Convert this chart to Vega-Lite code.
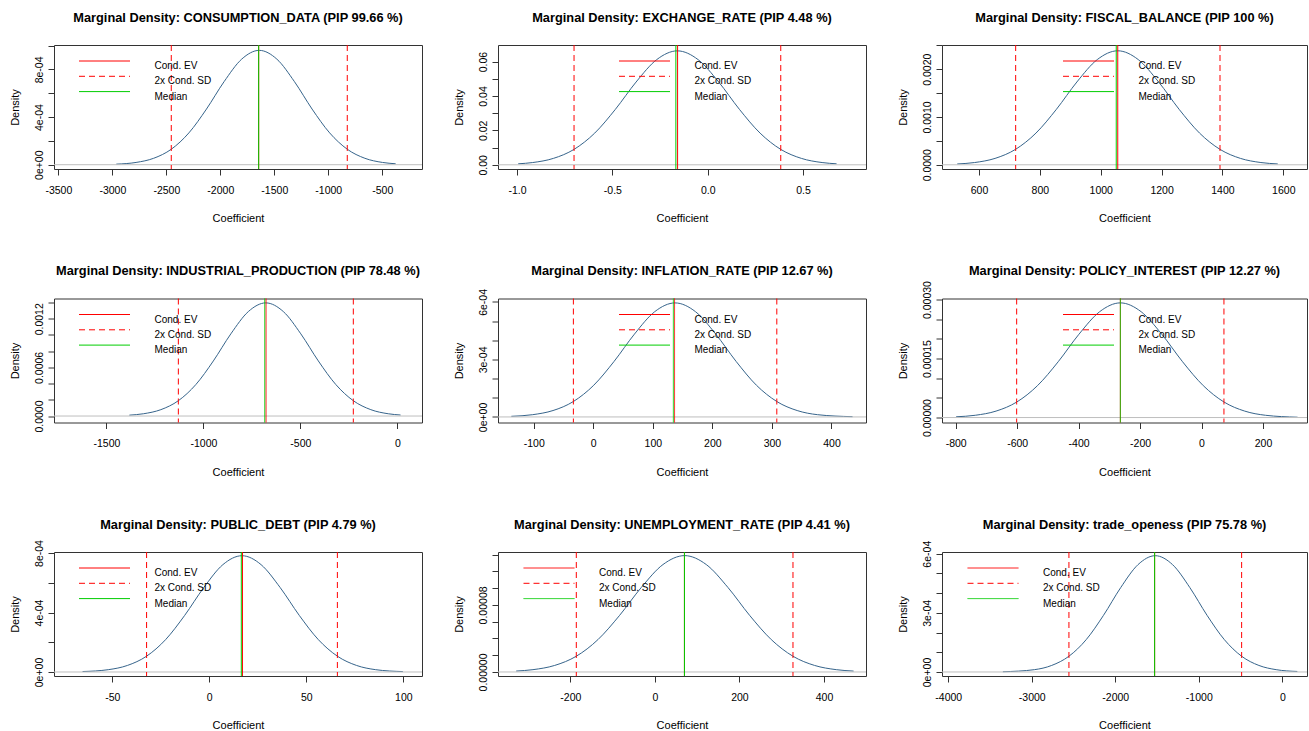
{
  "$schema": "https://vega.github.io/schema/vega-lite/v6.json",
  "background": "white",
  "padding": {"left": 8, "top": 11, "right": 0, "bottom": 0},
  "config": {
    "font": "Liberation Sans",
    "locale": {"number": {"decimal": ".", "thousands": ",", "grouping": [3], "currency": ["$", ""], "minus": "-"}},
    "view": {"stroke": "#333", "strokeWidth": 1},
    "axis": {"grid": false, "domain": false, "tickColor": "#333", "tickSize": 6, "tickWidth": 1, "labelColor": "#000", "titleColor": "#000", "labelFontSize": 10.5, "titleFontSize": 11, "titleFontWeight": "normal", "labelFlush": false, "labelOverlap": false, "labelFont": "Liberation Sans", "titleFont": "Liberation Sans", "tickCount": 30},
    "axisX": {"labelPadding": 10, "titlePadding": 17},
    "axisY": {"labelAngle": -90, "labelAlign": "center", "labelBaseline": "alphabetic", "labelPadding": 6, "titlePadding": 14},
    "title": {"font": "Liberation Sans", "fontSize": 12.8, "fontWeight": "bold", "color": "#000", "anchor": "middle", "frame": "group", "offset": 20},
    "legend": {"symbolType": "M-25.5,0H25.5", "symbolSize": 4, "symbolOffset": 20.5, "symbolStrokeWidth": 1, "labelFontSize": 10, "labelFont": "Liberation Sans", "labelColor": "#000", "labelOffset": 45, "labelBaseline": "top", "rowPadding": 0.3, "padding": 0}
  },
  "datasets": {
    "curves": [
      {"panel":"P1","x":-2963,"y":4.9e-6},{"panel":"P1","x":-2780,"y":1.905e-5},{"panel":"P1","x":-2617,"y":5.39e-5},{"panel":"P1","x":-2454,"y":1.299e-4},{"panel":"P1","x":-2291,"y":2.669e-4},{"panel":"P1","x":-2128,"y":4.673e-4},{"panel":"P1","x":-1965,"y":6.971e-4},{"panel":"P1","x":-1802,"y":8.862e-4},{"panel":"P1","x":-1639,"y":9.6e-4},{"panel":"P1","x":-1476,"y":8.862e-4},{"panel":"P1","x":-1313,"y":6.971e-4},{"panel":"P1","x":-1150,"y":4.673e-4},{"panel":"P1","x":-987,"y":2.669e-4},{"panel":"P1","x":-824,"y":1.299e-4},{"panel":"P1","x":-661,"y":5.39e-5},{"panel":"P1","x":-498,"y":1.905e-5},{"panel":"P1","x":-376,"y":7.9e-6},
      {"panel":"P2","x":-0.9937,"y":0.000577},{"panel":"P2","x":-0.9178,"y":0.001313},{"panel":"P2","x":-0.8094,"y":0.003716},{"panel":"P2","x":-0.701,"y":0.00896},{"panel":"P2","x":-0.5926,"y":0.018406},{"panel":"P2","x":-0.4842,"y":0.032223},{"panel":"P2","x":-0.3758,"y":0.048071},{"panel":"P2","x":-0.2674,"y":0.06111},{"panel":"P2","x":-0.159,"y":0.0662},{"panel":"P2","x":-0.0506,"y":0.06111},{"panel":"P2","x":0.0578,"y":0.048071},{"panel":"P2","x":0.1662,"y":0.032223},{"panel":"P2","x":0.2746,"y":0.018406},{"panel":"P2","x":0.383,"y":0.00896},{"panel":"P2","x":0.4914,"y":0.003716},{"panel":"P2","x":0.5998,"y":0.001313},{"panel":"P2","x":0.6757,"y":0.000577},
      {"panel":"P3","x":528.5,"y":1.72e-5},{"panel":"P3","x":585.6,"y":4.73e-5},{"panel":"P3","x":652.8,"y":1.339e-4},{"panel":"P3","x":720,"y":3.228e-4},{"panel":"P3","x":787.2,"y":6.631e-4},{"panel":"P3","x":854.4,"y":1.1609e-3},{"panel":"P3","x":921.6,"y":1.7319e-3},{"panel":"P3","x":988.8,"y":2.2016e-3},{"panel":"P3","x":1056,"y":2.385e-3},{"panel":"P3","x":1123.2,"y":2.2016e-3},{"panel":"P3","x":1190.4,"y":1.7319e-3},{"panel":"P3","x":1257.6,"y":1.1609e-3},{"panel":"P3","x":1324.8,"y":6.631e-4},{"panel":"P3","x":1392,"y":3.228e-4},{"panel":"P3","x":1459.2,"y":1.339e-4},{"panel":"P3","x":1526.4,"y":4.73e-5},{"panel":"P3","x":1581.8,"y":1.78e-5},
      {"panel":"P4","x":-1381.6,"y":1.07e-5},{"panel":"P4","x":-1309.4,"y":2.77e-5},{"panel":"P4","x":-1219.2,"y":7.84e-5},{"panel":"P4","x":-1129,"y":1.889e-4},{"panel":"P4","x":-1038.8,"y":3.881e-4},{"panel":"P4","x":-948.6,"y":6.795e-4},{"panel":"P4","x":-858.4,"y":1.0137e-3},{"panel":"P4","x":-768.2,"y":1.2887e-3},{"panel":"P4","x":-678,"y":1.396e-3},{"panel":"P4","x":-587.8,"y":1.2887e-3},{"panel":"P4","x":-497.6,"y":1.0137e-3},{"panel":"P4","x":-407.4,"y":6.795e-4},{"panel":"P4","x":-317.2,"y":3.881e-4},{"panel":"P4","x":-227,"y":1.889e-4},{"panel":"P4","x":-136.8,"y":7.84e-5},{"panel":"P4","x":-46.6,"y":2.77e-5},{"panel":"P4","x":16.5,"y":1.22e-5},
      {"panel":"P5","x":-137.6,"y":3.3e-6},{"panel":"P5","x":-101.7,"y":1.18e-5},{"panel":"P5","x":-67.6,"y":3.34e-5},{"panel":"P5","x":-33.4,"y":8.05e-5},{"panel":"P5","x":0.8,"y":1.654e-4},{"panel":"P5","x":34.9,"y":2.896e-4},{"panel":"P5","x":69.1,"y":4.321e-4},{"panel":"P5","x":103.2,"y":5.493e-4},{"panel":"P5","x":137.4,"y":5.95e-4},{"panel":"P5","x":171.6,"y":5.493e-4},{"panel":"P5","x":205.7,"y":4.321e-4},{"panel":"P5","x":239.9,"y":2.896e-4},{"panel":"P5","x":274.0,"y":1.654e-4},{"panel":"P5","x":308.2,"y":8.05e-5},{"panel":"P5","x":342.4,"y":3.34e-5},{"panel":"P5","x":376.5,"y":1.18e-5},{"panel":"P5","x":435.4,"y":1.35e-6},
      {"panel":"P6","x":-798.5,"y":1.92e-6},{"panel":"P6","x":-736.1,"y":5.78e-6},{"panel":"P6","x":-668.6,"y":1.636e-5},{"panel":"P6","x":-601.2,"y":3.945e-5},{"panel":"P6","x":-533.8,"y":8.105e-5},{"panel":"P6","x":-466.3,"y":1.4189e-4},{"panel":"P6","x":-398.9,"y":2.1167e-4},{"panel":"P6","x":-331.4,"y":2.6909e-4},{"panel":"P6","x":-264,"y":2.915e-4},{"panel":"P6","x":-196.6,"y":2.6909e-4},{"panel":"P6","x":-129.1,"y":2.1167e-4},{"panel":"P6","x":-61.7,"y":1.4189e-4},{"panel":"P6","x":5.8,"y":8.105e-5},{"panel":"P6","x":73.2,"y":3.945e-5},{"panel":"P6","x":140.6,"y":1.636e-5},{"panel":"P6","x":208.1,"y":5.78e-6},{"panel":"P6","x":312.6,"y":8.4e-7},
      {"panel":"P7","x":-65.3,"y":2.96e-6},{"panel":"P7","x":-52.03,"y":1.551e-5},{"panel":"P7","x":-42.19,"y":4.389e-5},{"panel":"P7","x":-32.35,"y":1.0584e-4},{"panel":"P7","x":-22.51,"y":2.1743e-4},{"panel":"P7","x":-12.67,"y":3.8064e-4},{"panel":"P7","x":-2.83,"y":5.6785e-4},{"panel":"P7","x":7.01,"y":7.2188e-4},{"panel":"P7","x":16.85,"y":7.82e-4},{"panel":"P7","x":26.69,"y":7.2188e-4},{"panel":"P7","x":36.53,"y":5.6785e-4},{"panel":"P7","x":46.37,"y":3.8064e-4},{"panel":"P7","x":56.21,"y":2.1743e-4},{"panel":"P7","x":66.05,"y":1.0584e-4},{"panel":"P7","x":75.89,"y":4.389e-5},{"panel":"P7","x":85.73,"y":1.551e-5},{"panel":"P7","x":99.75,"y":2.67e-6},
      {"panel":"P8","x":-328.0,"y":1.1e-6},{"panel":"P8","x":-288.3,"y":2.754e-6},{"panel":"P8","x":-237.0,"y":7.79e-6},{"panel":"P8","x":-185.8,"y":1.8785e-5},{"panel":"P8","x":-134.6,"y":3.8592e-5},{"panel":"P8","x":-83.3,"y":6.7561e-5},{"panel":"P8","x":-32.1,"y":1.0079e-4},{"panel":"P8","x":19.2,"y":1.28129e-4},{"panel":"P8","x":70.4,"y":1.388e-4},{"panel":"P8","x":121.6,"y":1.28129e-4},{"panel":"P8","x":172.9,"y":1.0079e-4},{"panel":"P8","x":224.1,"y":6.7561e-5},{"panel":"P8","x":275.4,"y":3.8592e-5},{"panel":"P8","x":326.6,"y":1.8785e-5},{"panel":"P8","x":377.8,"y":7.79e-6},{"panel":"P8","x":429.1,"y":2.754e-6},{"panel":"P8","x":470.1,"y":1.07e-6},
      {"panel":"P9","x":-3346,"y":1.16e-6},{"panel":"P9","x":-2968.6,"y":1.171e-5},{"panel":"P9","x":-2761.8,"y":3.312e-5},{"panel":"P9","x":-2555,"y":7.985e-5},{"panel":"P9","x":-2348.2,"y":1.6404e-4},{"panel":"P9","x":-2141.4,"y":2.8718e-4},{"panel":"P9","x":-1934.6,"y":4.2843e-4},{"panel":"P9","x":-1727.8,"y":5.4464e-4},{"panel":"P9","x":-1521,"y":5.9e-4},{"panel":"P9","x":-1314.2,"y":5.4464e-4},{"panel":"P9","x":-1107.4,"y":4.2843e-4},{"panel":"P9","x":-900.6,"y":2.8718e-4},{"panel":"P9","x":-693.8,"y":1.6404e-4},{"panel":"P9","x":-487,"y":7.985e-5},{"panel":"P9","x":-280.2,"y":3.312e-5},{"panel":"P9","x":-73.4,"y":1.171e-5},{"panel":"P9","x":180,"y":2.63e-6}
    ],
    "lines": [
      {"panel":"P1","type":"Cond. EV","x":-1644.6},{"panel":"P1","type":"2x Cond. SD","x":-2454},{"panel":"P1","type":"2x Cond. SD","x":-824},{"panel":"P1","type":"Median","x":-1644.6},
      {"panel":"P2","type":"Cond. EV","x":-0.158},{"panel":"P2","type":"2x Cond. SD","x":-0.701},{"panel":"P2","type":"2x Cond. SD","x":0.383},{"panel":"P2","type":"Median","x":-0.167},
      {"panel":"P3","type":"Cond. EV","x":1056},{"panel":"P3","type":"2x Cond. SD","x":720.5},{"panel":"P3","type":"2x Cond. SD","x":1392},{"panel":"P3","type":"Median","x":1051},
      {"panel":"P4","type":"Cond. EV","x":-677},{"panel":"P4","type":"2x Cond. SD","x":-1129},{"panel":"P4","type":"2x Cond. SD","x":-227},{"panel":"P4","type":"Median","x":-684},
      {"panel":"P5","type":"Cond. EV","x":136.5},{"panel":"P5","type":"2x Cond. SD","x":-33.4},{"panel":"P5","type":"2x Cond. SD","x":308.2},{"panel":"P5","type":"Median","x":134.5},
      {"panel":"P6","type":"Cond. EV","x":-264},{"panel":"P6","type":"2x Cond. SD","x":-601.5},{"panel":"P6","type":"2x Cond. SD","x":73},{"panel":"P6","type":"Median","x":-264},
      {"panel":"P7","type":"Cond. EV","x":17.1},{"panel":"P7","type":"2x Cond. SD","x":-32.3},{"panel":"P7","type":"2x Cond. SD","x":66},{"panel":"P7","type":"Median","x":16.5},
      {"panel":"P8","type":"Cond. EV","x":70},{"panel":"P8","type":"2x Cond. SD","x":-185.8},{"panel":"P8","type":"2x Cond. SD","x":326.7},{"panel":"P8","type":"Median","x":70},
      {"panel":"P9","type":"Cond. EV","x":-1529},{"panel":"P9","type":"2x Cond. SD","x":-2555},{"panel":"P9","type":"2x Cond. SD","x":-487},{"panel":"P9","type":"Median","x":-1529}
    ]
  },
  "columns": 3,
  "bounds": "flush",
  "spacing": {"row": 129.5, "column": 76},
  "resolve": {
    "scale": {"x": "independent", "y": "independent", "color": "independent", "strokeDash": "independent"},
    "legend": {"color": "independent", "strokeDash": "independent"},
    "axis": {"x": "independent", "y": "independent"}
  },
  "concat": [
    {
      "width": 368, "height": 124,
      "title": {"text": "Marginal Density: CONSUMPTION_DATA (PIP 99.66 %)", "offset": 20},
      "layer": [
        {"data": {"name": "curves"}, "transform": [{"filter": "datum.panel == 'P1'"}],
         "mark": {"type": "line", "color": "#36648B", "strokeWidth": 1, "interpolate": "monotone"},
         "encoding": {
           "x": {"field": "x", "type": "quantitative", "title": "Coefficient", "scale": {"domain": [-3540, -132], "nice": false, "zero": false}, "axis": {"values": [-3500, -3000, -2500, -2000, -1500, -1000, -500], "format": "d", "labelOverlap": false, "tickCount": 30}},
           "y": {"field": "y", "type": "quantitative", "title": "Density", "scale": {"domain": [-0.000036, 0.001005], "nice": false, "zero": false}, "axis": {"values": [0, 0.0002, 0.0004, 0.0006, 0.0008, 0.001], "tickCount": 30, "labelOverlap": false, "labelExpr": "datum.value == 0 ? '0e+00' : datum.value == 0.0004 ? '4e-04' : datum.value == 0.0008 ? '8e-04' : ''"}}
         }},
        {"data": {"values": [{}]}, "mark": {"type": "rule", "color": "#BEBEBE", "strokeWidth": 1}, "encoding": {"y": {"datum": 0, "type": "quantitative"}}},
        {"data": {"name": "lines"}, "transform": [{"filter": "datum.panel == 'P1'"}],
         "mark": {"type": "rule", "strokeWidth": 1},
         "encoding": {
           "x": {"field": "x", "type": "quantitative", "title": "Coefficient", "scale": {"domain": [-3540, -132], "nice": false, "zero": false}},
           "color": {"field": "type", "type": "nominal", "scale": {"domain": ["Cond. EV", "2x Cond. SD", "Median"], "range": ["#FF0000", "#FF0000", "#00CD00"]}, "legend": {"title": null, "orient": "none", "legendX": 25, "legendY": 11, "symbolType": "M-25.5,0H25.5", "symbolSize": 4, "symbolOffset": 20.5, "labelOffset": 45, "labelBaseline": "top", "rowPadding": 0.3, "encode": {"symbols": {"update": {"strokeDash": {"signal": "datum.value == '2x Cond. SD' ? [6, 4] : [1, 0]"}}}}}},
           "strokeDash": {"field": "type", "type": "nominal", "scale": {"domain": ["Cond. EV", "2x Cond. SD", "Median"], "range": [[1, 0], [6, 4], [1, 0]]}, "legend": null}
         }}
      ]
    },
    {
      "width": 368, "height": 124,
      "title": {"text": "Marginal Density: EXCHANGE_RATE (PIP 4.48 %)", "offset": 20},
      "layer": [
        {"data": {"name": "curves"}, "transform": [{"filter": "datum.panel == 'P2'"}],
         "mark": {"type": "line", "color": "#36648B", "strokeWidth": 1, "interpolate": "monotone"},
         "encoding": {
           "x": {"field": "x", "type": "quantitative", "title": "Coefficient", "scale": {"domain": [-1.0997, 0.83], "nice": false, "zero": false}, "axis": {"values": [-1, -0.5, 0, 0.5], "format": ".1f", "labelOverlap": false, "tickCount": 30}},
           "y": {"field": "y", "type": "quantitative", "title": "Density", "scale": {"domain": [-0.00244, 0.0696], "nice": false, "zero": false}, "axis": {"values": [0, 0.01, 0.02, 0.03, 0.04, 0.05, 0.06], "tickCount": 30, "labelOverlap": false, "labelExpr": "datum.value == 0 ? '0.00' : datum.value == 0.02 ? '0.02' : datum.value == 0.04 ? '0.04' : datum.value == 0.06 ? '0.06' : ''"}}
         }},
        {"data": {"values": [{}]}, "mark": {"type": "rule", "color": "#BEBEBE", "strokeWidth": 1}, "encoding": {"y": {"datum": 0, "type": "quantitative"}}},
        {"data": {"name": "lines"}, "transform": [{"filter": "datum.panel == 'P2'"}],
         "mark": {"type": "rule", "strokeWidth": 1},
         "encoding": {
           "x": {"field": "x", "type": "quantitative", "title": "Coefficient", "scale": {"domain": [-1.0997, 0.83], "nice": false, "zero": false}},
           "color": {"field": "type", "type": "nominal", "scale": {"domain": ["Cond. EV", "2x Cond. SD", "Median"], "range": ["#FF0000", "#FF0000", "#00CD00"]}, "legend": {"title": null, "orient": "none", "legendX": 121, "legendY": 11, "symbolType": "M-25.5,0H25.5", "symbolSize": 4, "symbolOffset": 20.5, "labelOffset": 45, "labelBaseline": "top", "rowPadding": 0.3, "encode": {"symbols": {"update": {"strokeDash": {"signal": "datum.value == '2x Cond. SD' ? [6, 4] : [1, 0]"}}}}}},
           "strokeDash": {"field": "type", "type": "nominal", "scale": {"domain": ["Cond. EV", "2x Cond. SD", "Median"], "range": [[1, 0], [6, 4], [1, 0]]}, "legend": null}
         }}
      ]
    },
    {
      "width": 365, "height": 124,
      "title": {"text": "Marginal Density: FISCAL_BALANCE (PIP 100 %)", "offset": 20},
      "layer": [
        {"data": {"name": "curves"}, "transform": [{"filter": "datum.panel == 'P3'"}],
         "mark": {"type": "line", "color": "#36648B", "strokeWidth": 1, "interpolate": "monotone"},
         "encoding": {
           "x": {"field": "x", "type": "quantitative", "title": "Coefficient", "scale": {"domain": [478.4, 1677.9], "nice": false, "zero": false}, "axis": {"values": [600, 800, 1000, 1200, 1400, 1600], "format": "d", "labelOverlap": false, "tickCount": 30}},
           "y": {"field": "y", "type": "quantitative", "title": "Density", "scale": {"domain": [-0.000088, 0.002506], "nice": false, "zero": false}, "axis": {"values": [0, 0.0005, 0.001, 0.0015, 0.002, 0.0025], "tickCount": 30, "labelOverlap": false, "labelExpr": "datum.value == 0 ? '0.0000' : datum.value == 0.001 ? '0.0010' : datum.value == 0.002 ? '0.0020' : ''"}}
         }},
        {"data": {"values": [{}]}, "mark": {"type": "rule", "color": "#BEBEBE", "strokeWidth": 1}, "encoding": {"y": {"datum": 0, "type": "quantitative"}}},
        {"data": {"name": "lines"}, "transform": [{"filter": "datum.panel == 'P3'"}],
         "mark": {"type": "rule", "strokeWidth": 1},
         "encoding": {
           "x": {"field": "x", "type": "quantitative", "title": "Coefficient", "scale": {"domain": [478.4, 1677.9], "nice": false, "zero": false}},
           "color": {"field": "type", "type": "nominal", "scale": {"domain": ["Cond. EV", "2x Cond. SD", "Median"], "range": ["#FF0000", "#FF0000", "#00CD00"]}, "legend": {"title": null, "orient": "none", "legendX": 121, "legendY": 11, "symbolType": "M-25.5,0H25.5", "symbolSize": 4, "symbolOffset": 20.5, "labelOffset": 45, "labelBaseline": "top", "rowPadding": 0.3, "encode": {"symbols": {"update": {"strokeDash": {"signal": "datum.value == '2x Cond. SD' ? [6, 4] : [1, 0]"}}}}}},
           "strokeDash": {"field": "type", "type": "nominal", "scale": {"domain": ["Cond. EV", "2x Cond. SD", "Median"], "range": [[1, 0], [6, 4], [1, 0]]}, "legend": null}
         }}
      ]
    },
    {
      "width": 368, "height": 124,
      "title": {"text": "Marginal Density: INDUSTRIAL_PRODUCTION (PIP 78.48 %)", "offset": 20},
      "layer": [
        {"data": {"name": "curves"}, "transform": [{"filter": "datum.panel == 'P4'"}],
         "mark": {"type": "line", "color": "#36648B", "strokeWidth": 1, "interpolate": "monotone"},
         "encoding": {
           "x": {"field": "x", "type": "quantitative", "title": "Coefficient", "scale": {"domain": [-1770, 127], "nice": false, "zero": false}, "axis": {"values": [-1500, -1000, -500, 0], "format": "d", "labelOverlap": false, "tickCount": 30}},
           "y": {"field": "y", "type": "quantitative", "title": "Density", "scale": {"domain": [-0.00008, 0.00145], "nice": false, "zero": false}, "axis": {"values": [0, 0.0002, 0.0004, 0.0006, 0.0008, 0.001, 0.0012, 0.0014], "tickCount": 30, "labelOverlap": false, "labelExpr": "datum.value == 0 ? '0.0000' : datum.value == 0.0006 ? '0.0006' : datum.value == 0.0012 ? '0.0012' : ''"}}
         }},
        {"data": {"values": [{}]}, "mark": {"type": "rule", "color": "#BEBEBE", "strokeWidth": 1}, "encoding": {"y": {"datum": 0, "type": "quantitative"}}},
        {"data": {"name": "lines"}, "transform": [{"filter": "datum.panel == 'P4'"}],
         "mark": {"type": "rule", "strokeWidth": 1},
         "encoding": {
           "x": {"field": "x", "type": "quantitative", "title": "Coefficient", "scale": {"domain": [-1770, 127], "nice": false, "zero": false}},
           "color": {"field": "type", "type": "nominal", "scale": {"domain": ["Cond. EV", "2x Cond. SD", "Median"], "range": ["#FF0000", "#FF0000", "#00CD00"]}, "legend": {"title": null, "orient": "none", "legendX": 25, "legendY": 11, "symbolType": "M-25.5,0H25.5", "symbolSize": 4, "symbolOffset": 20.5, "labelOffset": 45, "labelBaseline": "top", "rowPadding": 0.3, "encode": {"symbols": {"update": {"strokeDash": {"signal": "datum.value == '2x Cond. SD' ? [6, 4] : [1, 0]"}}}}}},
           "strokeDash": {"field": "type", "type": "nominal", "scale": {"domain": ["Cond. EV", "2x Cond. SD", "Median"], "range": [[1, 0], [6, 4], [1, 0]]}, "legend": null}
         }}
      ]
    },
    {
      "width": 368, "height": 124,
      "title": {"text": "Marginal Density: INFLATION_RATE (PIP 12.67 %)", "offset": 11},
      "layer": [
        {"data": {"name": "curves"}, "transform": [{"filter": "datum.panel == 'P5'"}],
         "mark": {"type": "line", "color": "#36648B", "strokeWidth": 1, "interpolate": "monotone"},
         "encoding": {
           "x": {"field": "x", "type": "quantitative", "title": "Coefficient", "scale": {"domain": [-160, 458], "nice": false, "zero": false}, "axis": {"values": [-100, 0, 100, 200, 300, 400], "format": "d", "labelOverlap": false, "tickCount": 30}},
           "y": {"field": "y", "type": "quantitative", "title": "Density", "scale": {"domain": [-0.000029, 0.000618], "nice": false, "zero": false}, "axis": {"values": [0, 0.0001, 0.0002, 0.0003, 0.0004, 0.0005, 0.0006], "tickCount": 30, "labelOverlap": false, "labelExpr": "datum.value == 0 ? '0e+00' : datum.value == 0.0003 ? '3e-04' : datum.value == 0.0006 ? '6e-04' : ''"}}
         }},
        {"data": {"values": [{}]}, "mark": {"type": "rule", "color": "#BEBEBE", "strokeWidth": 1}, "encoding": {"y": {"datum": 0, "type": "quantitative"}}},
        {"data": {"name": "lines"}, "transform": [{"filter": "datum.panel == 'P5'"}],
         "mark": {"type": "rule", "strokeWidth": 1},
         "encoding": {
           "x": {"field": "x", "type": "quantitative", "title": "Coefficient", "scale": {"domain": [-160, 458], "nice": false, "zero": false}},
           "color": {"field": "type", "type": "nominal", "scale": {"domain": ["Cond. EV", "2x Cond. SD", "Median"], "range": ["#FF0000", "#FF0000", "#00CD00"]}, "legend": {"title": null, "orient": "none", "legendX": 121, "legendY": 11, "symbolType": "M-25.5,0H25.5", "symbolSize": 4, "symbolOffset": 20.5, "labelOffset": 45, "labelBaseline": "top", "rowPadding": 0.3, "encode": {"symbols": {"update": {"strokeDash": {"signal": "datum.value == '2x Cond. SD' ? [6, 4] : [1, 0]"}}}}}},
           "strokeDash": {"field": "type", "type": "nominal", "scale": {"domain": ["Cond. EV", "2x Cond. SD", "Median"], "range": [[1, 0], [6, 4], [1, 0]]}, "legend": null}
         }}
      ]
    },
    {
      "width": 365, "height": 124,
      "title": {"text": "Marginal Density: POLICY_INTEREST (PIP 12.27 %)", "offset": 3},
      "layer": [
        {"data": {"name": "curves"}, "transform": [{"filter": "datum.panel == 'P6'"}],
         "mark": {"type": "line", "color": "#36648B", "strokeWidth": 1, "interpolate": "monotone"},
         "encoding": {
           "x": {"field": "x", "type": "quantitative", "title": "Coefficient", "scale": {"domain": [-844.5, 343.3], "nice": false, "zero": false}, "axis": {"values": [-800, -600, -400, -200, 0, 200], "format": "d", "labelOverlap": false, "tickCount": 30}},
           "y": {"field": "y", "type": "quantitative", "title": "Density", "scale": {"domain": [-0.0000126, 0.0003026], "nice": false, "zero": false}, "axis": {"values": [0, 0.00005, 0.0001, 0.00015, 0.0002, 0.00025, 0.0003], "tickCount": 30, "labelOverlap": false, "labelExpr": "datum.value == 0 ? '0.00000' : datum.value == 0.00015 ? '0.00015' : datum.value == 0.0003 ? '0.00030' : ''"}}
         }},
        {"data": {"values": [{}]}, "mark": {"type": "rule", "color": "#BEBEBE", "strokeWidth": 1}, "encoding": {"y": {"datum": 0, "type": "quantitative"}}},
        {"data": {"name": "lines"}, "transform": [{"filter": "datum.panel == 'P6'"}],
         "mark": {"type": "rule", "strokeWidth": 1},
         "encoding": {
           "x": {"field": "x", "type": "quantitative", "title": "Coefficient", "scale": {"domain": [-844.5, 343.3], "nice": false, "zero": false}},
           "color": {"field": "type", "type": "nominal", "scale": {"domain": ["Cond. EV", "2x Cond. SD", "Median"], "range": ["#FF0000", "#FF0000", "#00CD00"]}, "legend": {"title": null, "orient": "none", "legendX": 121, "legendY": 11, "symbolType": "M-25.5,0H25.5", "symbolSize": 4, "symbolOffset": 20.5, "labelOffset": 45, "labelBaseline": "top", "rowPadding": 0.3, "encode": {"symbols": {"update": {"strokeDash": {"signal": "datum.value == '2x Cond. SD' ? [6, 4] : [1, 0]"}}}}}},
           "strokeDash": {"field": "type", "type": "nominal", "scale": {"domain": ["Cond. EV", "2x Cond. SD", "Median"], "range": [[1, 0], [6, 4], [1, 0]]}, "legend": null}
         }}
      ]
    },
    {
      "width": 368, "height": 124,
      "title": {"text": "Marginal Density: PUBLIC_DEBT (PIP 4.79 %)", "offset": 7.8},
      "layer": [
        {"data": {"name": "curves"}, "transform": [{"filter": "datum.panel == 'P7'"}],
         "mark": {"type": "line", "color": "#36648B", "strokeWidth": 1, "interpolate": "monotone"},
         "encoding": {
           "x": {"field": "x", "type": "quantitative", "title": "Coefficient", "scale": {"domain": [-80, 109.6], "nice": false, "zero": false}, "axis": {"values": [-50, 0, 50, 100], "format": "d", "labelOverlap": false, "tickCount": 30}},
           "y": {"field": "y", "type": "quantitative", "title": "Density", "scale": {"domain": [-0.000027, 0.000807], "nice": false, "zero": false}, "axis": {"values": [0, 0.0002, 0.0004, 0.0006, 0.0008], "tickCount": 30, "labelOverlap": false, "labelExpr": "datum.value == 0 ? '0e+00' : datum.value == 0.0004 ? '4e-04' : datum.value == 0.0008 ? '8e-04' : ''"}}
         }},
        {"data": {"values": [{}]}, "mark": {"type": "rule", "color": "#BEBEBE", "strokeWidth": 1}, "encoding": {"y": {"datum": 0, "type": "quantitative"}}},
        {"data": {"name": "lines"}, "transform": [{"filter": "datum.panel == 'P7'"}],
         "mark": {"type": "rule", "strokeWidth": 1},
         "encoding": {
           "x": {"field": "x", "type": "quantitative", "title": "Coefficient", "scale": {"domain": [-80, 109.6], "nice": false, "zero": false}},
           "color": {"field": "type", "type": "nominal", "scale": {"domain": ["Cond. EV", "2x Cond. SD", "Median"], "range": ["#FF0000", "#FF0000", "#00CD00"]}, "legend": {"title": null, "orient": "none", "legendX": 25, "legendY": 11, "symbolType": "M-25.5,0H25.5", "symbolSize": 4, "symbolOffset": 20.5, "labelOffset": 45, "labelBaseline": "top", "rowPadding": 0.3, "encode": {"symbols": {"update": {"strokeDash": {"signal": "datum.value == '2x Cond. SD' ? [6, 4] : [1, 0]"}}}}}},
           "strokeDash": {"field": "type", "type": "nominal", "scale": {"domain": ["Cond. EV", "2x Cond. SD", "Median"], "range": [[1, 0], [6, 4], [1, 0]]}, "legend": null}
         }}
      ]
    },
    {
      "width": 368, "height": 124,
      "title": {"text": "Marginal Density: UNEMPLOYMENT_RATE (PIP 4.41 %)", "offset": 20},
      "layer": [
        {"data": {"name": "curves"}, "transform": [{"filter": "datum.panel == 'P8'"}],
         "mark": {"type": "line", "color": "#36648B", "strokeWidth": 1, "interpolate": "monotone"},
         "encoding": {
           "x": {"field": "x", "type": "quantitative", "title": "Coefficient", "scale": {"domain": [-371, 499.4], "nice": false, "zero": false}, "axis": {"values": [-200, 0, 200, 400], "format": "d", "labelOverlap": false, "tickCount": 30}},
           "y": {"field": "y", "type": "quantitative", "title": "Density", "scale": {"domain": [-0.0000048, 0.0001431], "nice": false, "zero": false}, "axis": {"values": [0, 0.00002, 0.00004, 0.00006, 0.00008, 0.0001, 0.00012, 0.00014], "tickCount": 30, "labelOverlap": false, "labelExpr": "datum.value == 0 ? '0.00000' : datum.value == 0.00008 ? '0.00008' : ''"}}
         }},
        {"data": {"values": [{}]}, "mark": {"type": "rule", "color": "#BEBEBE", "strokeWidth": 1}, "encoding": {"y": {"datum": 0, "type": "quantitative"}}},
        {"data": {"name": "lines"}, "transform": [{"filter": "datum.panel == 'P8'"}],
         "mark": {"type": "rule", "strokeWidth": 1},
         "encoding": {
           "x": {"field": "x", "type": "quantitative", "title": "Coefficient", "scale": {"domain": [-371, 499.4], "nice": false, "zero": false}},
           "color": {"field": "type", "type": "nominal", "scale": {"domain": ["Cond. EV", "2x Cond. SD", "Median"], "range": ["#FF0000", "#FF0000", "#00CD00"]}, "legend": {"title": null, "orient": "none", "legendX": 25.5, "legendY": 11, "symbolType": "M-25.5,0H25.5", "symbolSize": 4, "symbolOffset": 20.5, "labelOffset": 45, "labelBaseline": "top", "rowPadding": 0.3, "encode": {"symbols": {"update": {"strokeDash": {"signal": "datum.value == '2x Cond. SD' ? [6, 4] : [1, 0]"}}}}}},
           "strokeDash": {"field": "type", "type": "nominal", "scale": {"domain": ["Cond. EV", "2x Cond. SD", "Median"], "range": [[1, 0], [6, 4], [1, 0]]}, "legend": null}
         }}
      ]
    },
    {
      "width": 365, "height": 124,
      "title": {"text": "Marginal Density: trade_openess (PIP 75.78 %)", "offset": 8.3},
      "layer": [
        {"data": {"name": "curves"}, "transform": [{"filter": "datum.panel == 'P9'"}],
         "mark": {"type": "line", "color": "#36648B", "strokeWidth": 1, "interpolate": "monotone"},
         "encoding": {
           "x": {"field": "x", "type": "quantitative", "title": "Coefficient", "scale": {"domain": [-4075, 295.8], "nice": false, "zero": false}, "axis": {"values": [-4000, -3000, -2000, -1000, 0], "format": "d", "labelOverlap": false, "tickCount": 30}},
           "y": {"field": "y", "type": "quantitative", "title": "Density", "scale": {"domain": [-0.0000204, 0.0006087], "nice": false, "zero": false}, "axis": {"values": [0, 0.0001, 0.0002, 0.0003, 0.0004, 0.0005, 0.0006], "tickCount": 30, "labelOverlap": false, "labelExpr": "datum.value == 0 ? '0e+00' : datum.value == 0.0003 ? '3e-04' : datum.value == 0.0006 ? '6e-04' : ''"}}
         }},
        {"data": {"values": [{}]}, "mark": {"type": "rule", "color": "#BEBEBE", "strokeWidth": 1}, "encoding": {"y": {"datum": 0, "type": "quantitative"}}},
        {"data": {"name": "lines"}, "transform": [{"filter": "datum.panel == 'P9'"}],
         "mark": {"type": "rule", "strokeWidth": 1},
         "encoding": {
           "x": {"field": "x", "type": "quantitative", "title": "Coefficient", "scale": {"domain": [-4075, 295.8], "nice": false, "zero": false}},
           "color": {"field": "type", "type": "nominal", "scale": {"domain": ["Cond. EV", "2x Cond. SD", "Median"], "range": ["#FF0000", "#FF0000", "#00CD00"]}, "legend": {"title": null, "orient": "none", "legendX": 25.5, "legendY": 11, "symbolType": "M-25.5,0H25.5", "symbolSize": 4, "symbolOffset": 20.5, "labelOffset": 45, "labelBaseline": "top", "rowPadding": 0.3, "encode": {"symbols": {"update": {"strokeDash": {"signal": "datum.value == '2x Cond. SD' ? [6, 4] : [1, 0]"}}}}}},
           "strokeDash": {"field": "type", "type": "nominal", "scale": {"domain": ["Cond. EV", "2x Cond. SD", "Median"], "range": [[1, 0], [6, 4], [1, 0]]}, "legend": null}
         }}
      ]
    }
  ]
}
